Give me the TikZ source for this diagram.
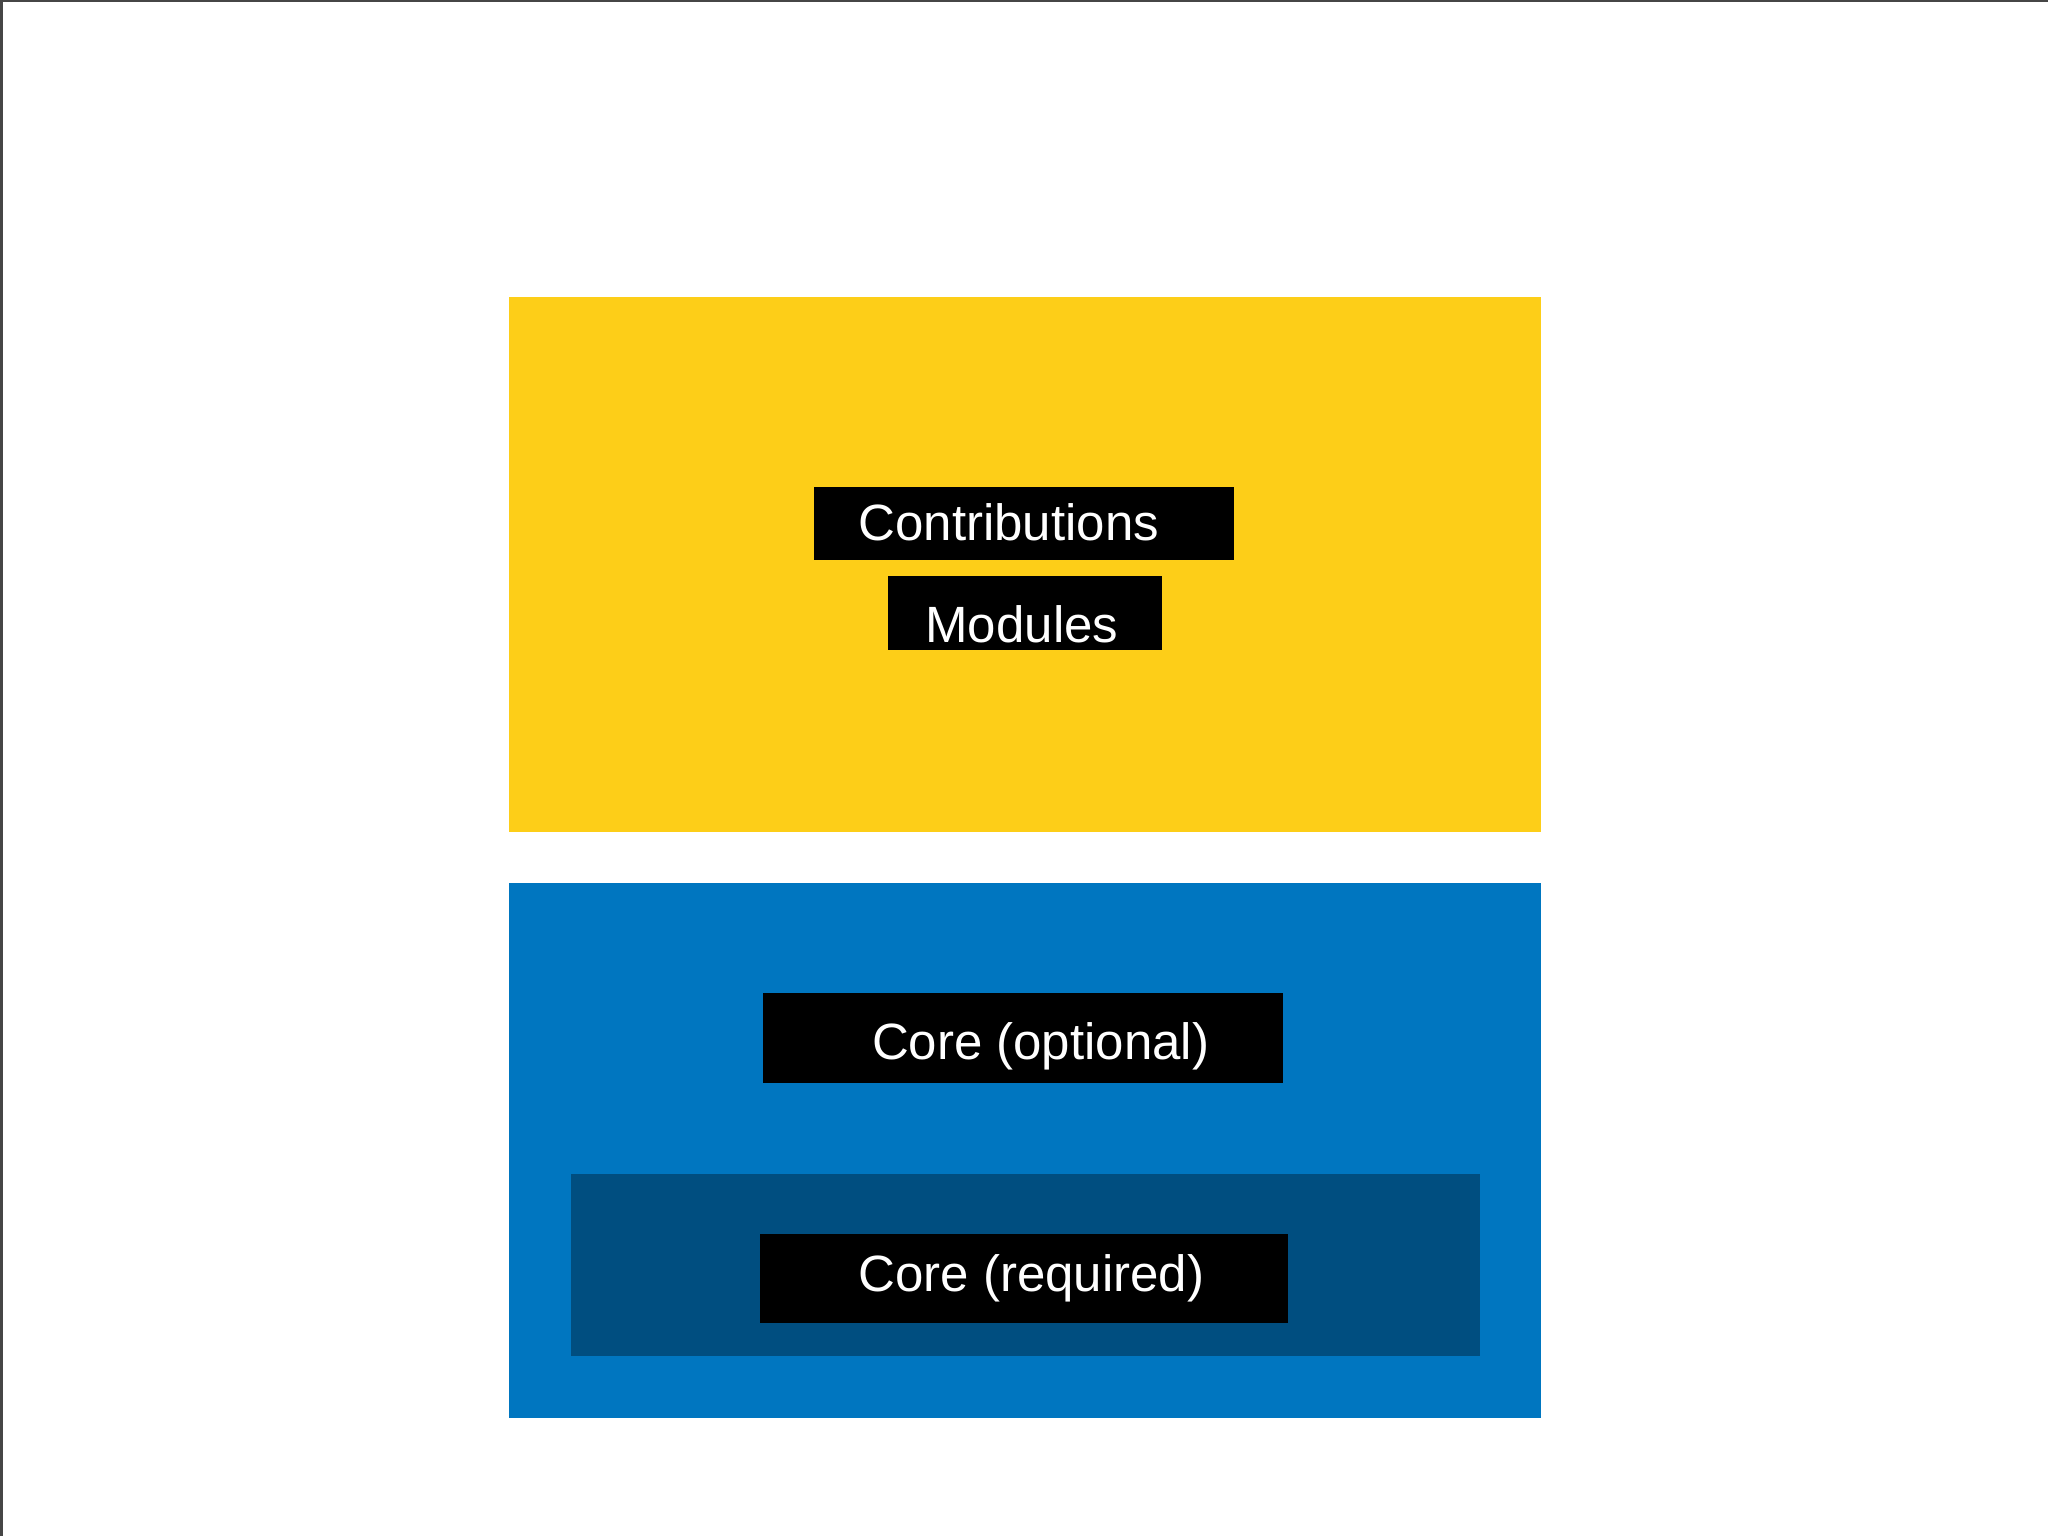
\documentclass[tikz,border=0pt]{standalone}
\usepackage{fontspec}
\setmainfont{Liberation Sans}
\definecolor{ylw}{RGB}{253,206,24}
\definecolor{blu}{RGB}{0,118,192}
\definecolor{dblu}{RGB}{0,78,128}
\definecolor{frm}{RGB}{70,70,70}
\begin{document}
\begin{tikzpicture}[x=0.5pt,y=-0.5pt,
  panel/.style={rectangle,inner sep=0pt,outer sep=0pt},
  blackbox/.style={rectangle,fill=black,inner sep=0pt,outer sep=0pt},
  lbl/.style={anchor=base west,inner sep=0pt,outer sep=0pt,text=white,font=\fontsize{25.5pt}{30pt}\selectfont}]
\useasboundingbox (0,0) rectangle (2048,1536);
\fill[white] (0,0) rectangle (2048,1536);
\draw[frm,line width=1.25pt] (1.25,1536) -- (1.25,1.25) -- (2048,1.25);
% panels
\node[panel,fill=ylw,minimum width=515.7pt,minimum height=267.5pt] (contribpanel) at (1025,564.2) {};
\node[panel,fill=blu,minimum width=515.7pt,minimum height=267.2pt] (corepanel) at (1025,1150.5) {};
\node[panel,fill=dblu,minimum width=454.25pt,minimum height=91pt] (reqpanel) at (1025.25,1265) {};
% black boxes
\node[blackbox,minimum width=210pt,minimum height=36.5pt] (contribbox) at (1024,523.5) {};
\node[blackbox,minimum width=137pt,minimum height=37pt] (modbox) at (1025,613) {};
\node[blackbox,minimum width=260pt,minimum height=45pt] (optbox) at (1023,1038) {};
\node[blackbox,minimum width=264pt,minimum height=44.5pt] (reqbox) at (1024,1278.5) {};
% labels
\node[lbl] (contribtxt) at (858.5,540) {Contributions};
\node[lbl] (modtxt) at (925.5,642) {Modules};
\node[lbl] (opttxt) at (872,1059) {Core (optional)};
\node[lbl] (reqtxt) at (858.5,1291) {Core (required)};
\end{tikzpicture}
\end{document}
